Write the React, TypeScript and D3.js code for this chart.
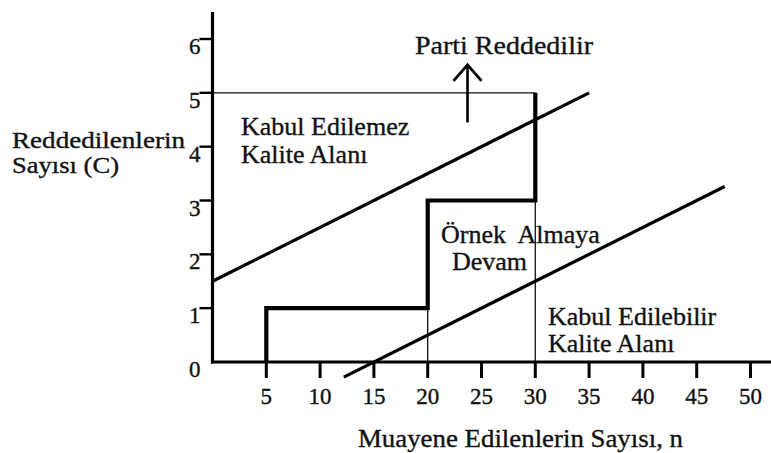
import React from "react";
import * as d3 from "d3";

// Sequential sampling plan: rejected count C against inspected count n
const xTicks = [5, 10, 15, 20, 25, 30, 35, 40, 45, 50];
const yTicks = [0, 1, 2, 3, 4, 5, 6];

// Rejection line: C = 1.5 + 0.1 n ; acceptance line: C = -1.5 + 0.1 n
const rejectLine: [number, number][] = [
  [0, 1.5],
  [35, 5.0],
];
const acceptLine: [number, number][] = [
  [12.2, -0.28],
  [47.6, 3.26],
];

// Cumulative rejected items as samples are inspected
const stepPath: [number, number][] = [
  [5, 0],
  [5, 1],
  [20, 1],
  [20, 3],
  [30, 3],
  [30, 5],
];

// Thin guide lines
const guideLines: [number, number][][] = [
  [
    [0, 5],
    [30, 5],
  ],
  [
    [20, 0],
    [20, 1],
  ],
  [
    [30, 0],
    [30, 3],
  ],
];

const arrowN = 23.7;
const arrowFrom = 4.45;
const arrowTo = 5.52;

const W = 771;
const H = 453;
const FONT = "'Liberation Serif', 'Times New Roman', serif";

export default function App() {
  const x = d3.scaleLinear().domain([0, 50]).range([212.5, 750.5]);
  const y = d3.scaleLinear().domain([0, 6]).range([362, 39]);
  const line = d3
    .line<[number, number]>()
    .x((d) => x(d[0]))
    .y((d) => y(d[1]));

  const x0 = x(0);
  const y0 = y(0);
  const ax = x(arrowN);

  const textProps = { fill: "#111", stroke: "#111", strokeWidth: 0.35 };

  return (
    <svg
      width={W}
      height={H}
      style={{ position: "absolute", left: 0, top: 0, background: "#fff" }}
      fontFamily={FONT}
    >
      {/* guide lines */}
      {guideLines.map((g, i) => (
        <path key={i} d={line(g) || ""} stroke="#111" strokeWidth={1.3} fill="none" />
      ))}

      {/* decision lines */}
      <path d={line(rejectLine) || ""} stroke="#000" strokeWidth={3.2} fill="none" />
      <path d={line(acceptLine) || ""} stroke="#000" strokeWidth={3.2} fill="none" />

      {/* sample path */}
      <path
        d={line(stepPath) || ""}
        stroke="#000"
        strokeWidth={4.2}
        fill="none"
        strokeLinejoin="miter"
      />

      {/* axes */}
      <line x1={x0} y1={12} x2={x0} y2={y0 + 1.5} stroke="#000" strokeWidth={3.2} />
      <line x1={x0 - 1.5} y1={y0} x2={W} y2={y0} stroke="#000" strokeWidth={3.2} />

      {xTicks.map((t) => (
        <g key={t}>
          <line x1={x(t)} y1={y0} x2={x(t)} y2={y0 + 16} stroke="#000" strokeWidth={3} />
          <text x={x(t)} y={404} fontSize={23} textAnchor="middle" {...textProps}>
            {t}
          </text>
        </g>
      ))}

      {yTicks.map((t) => (
        <g key={t}>
          {t > 0 && (
            <line x1={x0 - 13} y1={y(t)} x2={x0} y2={y(t)} stroke="#000" strokeWidth={2.4} />
          )}
          <text x={x0 - 12} y={y(t) + 15} fontSize={23} textAnchor="end" {...textProps}>
            {t}
          </text>
        </g>
      ))}

      {/* reject arrow */}
      <line x1={ax} y1={y(arrowFrom)} x2={ax} y2={y(arrowTo)} stroke="#000" strokeWidth={2.6} />
      <path
        d={`M${ax - 14},${y(arrowTo) + 16} L${ax},${y(arrowTo)} L${ax + 14},${y(arrowTo) + 16}`}
        stroke="#000"
        strokeWidth={2.8}
        fill="none"
      />

      {/* region labels */}
      <g fontSize={26} {...textProps}>
        <text x={415} y={54} textLength={178} lengthAdjust="spacingAndGlyphs">
          Parti Reddedilir
        </text>
        <text x={241} y={135}>Kabul Edilemez</text>
        <text x={241} y={163}>Kalite Alanı</text>
        <text x={441} y={243} xmlSpace="preserve">Örnek  Almaya</text>
        <text x={452} y={270}>Devam</text>
        <text x={548} y={325}>Kabul Edilebilir</text>
        <text x={548} y={352}>Kalite Alanı</text>
      </g>

      {/* axis titles */}
      <g fontSize={23} {...textProps}>
        <text x={12} y={148} textLength={173} lengthAdjust="spacingAndGlyphs">
          Reddedilenlerin
        </text>
        <text x={12} y={173} textLength={107} lengthAdjust="spacingAndGlyphs">
          Sayısı (C)
        </text>
        <text x={358} y={447} fontSize={25} textLength={325} lengthAdjust="spacingAndGlyphs">
          Muayene Edilenlerin Sayısı, n
        </text>
      </g>
    </svg>
  );
}
